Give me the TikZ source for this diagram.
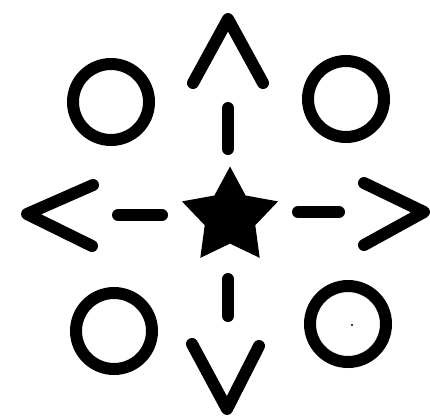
\documentclass[tikz,border=0pt]{standalone}
\usetikzlibrary{shapes.geometric}
\begin{document}
\begin{tikzpicture}[
    x=1pt, y=-1pt,
    ring/.style={circle, draw=black, line width=12pt, minimum size=76pt, inner sep=0pt},
    centre/.style={star, star points=5, star point ratio=1.9, fill=black, minimum size=101pt, inner sep=0pt},
    stroke/.style={line width=12pt, line cap=round, line join=round}
]
\useasboundingbox (0,0) rectangle (430,418);

% Nodes
\node[centre] (mid) at (230,217) {};
\node[ring] (nw) at (111,102) {};
\node[ring] (ne) at (346,99) {};
\node[ring] (sw) at (114,331) {};
\node[ring] (se) at (348,324) {};
\fill (352,325) circle (1.2pt);

% Arrow ends
\coordinate (upA) at (228,149);  \coordinate (upB) at (228,108);
\coordinate (upTip) at (228,19);
\coordinate (dnA) at (228,279);  \coordinate (dnB) at (228,316);
\coordinate (dnTip) at (227,409);
\coordinate (ltA) at (162,215);  \coordinate (ltB) at (118,215);
\coordinate (ltTip) at (27,214);
\coordinate (rtA) at (298,212);  \coordinate (rtB) at (339,212);
\coordinate (rtTip) at (424,212);

% Arrows
\draw[stroke] (upA) -- (upB);
\draw[stroke] (193,83) -- (upTip) -- (263,83);
\draw[stroke] (dnA) -- (dnB);
\draw[stroke] (192,344) -- (dnTip) -- (259,346);
\draw[stroke] (ltA) -- (ltB);
\draw[stroke] (93,185) -- (ltTip) -- (92,246);
\draw[stroke] (rtA) -- (rtB);
\draw[stroke] (364,183) -- (rtTip) -- (364,245);
\end{tikzpicture}
\end{document}
